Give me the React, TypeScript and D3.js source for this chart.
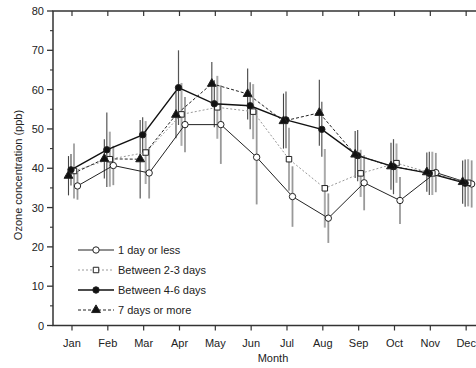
import React, { useEffect, useRef } from 'react';
import * as d3 from 'd3';

const months = ['Jan', 'Feb', 'Mar', 'Apr', 'May', 'Jun', 'Jul', 'Aug', 'Sep', 'Oct', 'Nov', 'Dec'];

const oneDay = [35.5, 40.7, 38.8, 51.1, 51.1, 42.8, 32.8, 27.3, 36.3, 31.8, 38.9, 36.0];
const oneDayErr = [3.5, 5, 6.5, 7, 10, 12, 7.7, 6.3, 7, 6, 5, 6];
const twoThreeDays = [39.3, 42.3, 44.0, 53.7, 55.5, 54.4, 42.3, 34.9, 38.7, 41.3, 38.7, 36.3];
const twoThreeErr = [7, 7, 8, 8, 8, 7, 8, 10, 6, 5, 5.5, 6];
const fourSixDays = [39.6, 44.7, 48.5, 60.5, 56.4, 55.9, 52.3, 49.9, 43.2, 40.4, 38.7, 36.2];
const fourSixErr = [4, 9.5, 4.5, 9.5, 6, 6, 7.2, 7, 6.5, 7, 5.5, 6];
const sevenPlus = [38.1, 42.4, 42.3, 53.6, 61.5, 58.9, 52.0, 54.1, 43.5, 40.5, 39.0, 36.5];
const sevenPlusErr = [5, 5, 10, 6, 5.5, 6.5, 7, 8.4, 6, 6, 5, 5.5];

const yTicks = [0, 10, 20, 30, 40, 50, 60, 70, 80];

const series = [
  { name: '1 day or less', values: oneDay, err: oneDayErr, marker: 'circle', filled: false,
    stroke: '#222', width: 1, dash: null, dx: 5.5, errColor: '#999', errWidth: 1.8 },
  { name: 'Between 2-3 days', values: twoThreeDays, err: twoThreeErr, marker: 'square', filled: false,
    stroke: '#999', width: 1, dash: '2,2', dx: 2, errColor: '#aaa', errWidth: 2 },
  { name: 'Between 4-6 days', values: fourSixDays, err: fourSixErr, marker: 'circle', filled: true,
    stroke: '#111', width: 1.4, dash: null, dx: -1, errColor: '#555', errWidth: 1.2 },
  { name: '7 days or more', values: sevenPlus, err: sevenPlusErr, marker: 'triangle', filled: true,
    stroke: '#222', width: 1, dash: '3,2', dx: -3.5, errColor: '#444', errWidth: 1.1 },
];

const App = () => {
  const svgRef = useRef(null);

  useEffect(() => {
    const svg = d3.select(svgRef.current);
    svg.selectAll('*').remove();

    const left = 53, right = 483, top = 11, bottom = 325.5;
    const font = 'Liberation Sans, Arial, sans-serif';

    const x = d3.scaleLinear().domain([0.47, 12.47]).range([left, right]);
    const y = d3.scaleLinear().domain([0, 80]).range([bottom, top]);

    const axisColor = '#333';

    // frame
    svg.append('rect')
      .attr('x', left).attr('y', top)
      .attr('width', right - left).attr('height', bottom - top)
      .attr('fill', 'none').attr('stroke', axisColor).attr('stroke-width', 1.5);

    // y ticks
    const minor = d3.range(5, 80, 5).filter(v => v % 10 !== 0);
    svg.selectAll('.ymaj').data(yTicks).enter().append('line')
      .attr('x1', left - 6).attr('x2', left)
      .attr('y1', d => y(d)).attr('y2', d => y(d))
      .attr('stroke', axisColor).attr('stroke-width', 1.3);
    svg.selectAll('.ymin').data(minor).enter().append('line')
      .attr('x1', left - 3).attr('x2', left)
      .attr('y1', d => y(d)).attr('y2', d => y(d))
      .attr('stroke', axisColor).attr('stroke-width', 1.1);
    svg.selectAll('.yr').data(yTicks).enter().append('line')
      .attr('x1', right - 5).attr('x2', right)
      .attr('y1', d => y(d)).attr('y2', d => y(d))
      .attr('stroke', axisColor).attr('stroke-width', 1.2);

    svg.selectAll('.ylab').data(yTicks).enter().append('text')
      .attr('x', left - 9).attr('y', d => y(d) + 4)
      .attr('text-anchor', 'end')
      .style('font-family', font).style('font-size', '11px').style('fill', '#222')
      .text(d => d);

    // x ticks
    svg.selectAll('.xb').data(months).enter().append('line')
      .attr('x1', (d, i) => x(i + 1)).attr('x2', (d, i) => x(i + 1))
      .attr('y1', bottom).attr('y2', bottom + 5)
      .attr('stroke', axisColor).attr('stroke-width', 1.2);
    svg.selectAll('.xt').data(months).enter().append('line')
      .attr('x1', (d, i) => x(i + 1)).attr('x2', (d, i) => x(i + 1))
      .attr('y1', top).attr('y2', top + 5)
      .attr('stroke', axisColor).attr('stroke-width', 1.2);
    svg.selectAll('.xlab').data(months).enter().append('text')
      .attr('x', (d, i) => x(i + 1)).attr('y', bottom + 21)
      .attr('text-anchor', 'middle')
      .style('font-family', font).style('font-size', '11px').style('fill', '#222')
      .text(d => d);

    svg.append('text')
      .attr('x', 273).attr('y', 362)
      .attr('text-anchor', 'middle')
      .style('font-family', font).style('font-size', '11px').style('fill', '#222')
      .text('Month');

    svg.append('text')
      .attr('transform', `translate(22, 175) rotate(-90)`)
      .attr('text-anchor', 'middle')
      .style('font-family', font).style('font-size', '11px').style('fill', '#222')
      .text('Ozone concentration (ppb)');

    const g = svg.append('g');

    // error bars
    series.forEach(s => {
      g.selectAll(null).data(s.values).enter().append('line')
        .attr('x1', (d, i) => x(i + 1) + s.dx).attr('x2', (d, i) => x(i + 1) + s.dx)
        .attr('y1', (d, i) => y(d - s.err[i])).attr('y2', (d, i) => y(d + s.err[i]))
        .attr('stroke', s.errColor).attr('stroke-width', s.errWidth);
    });

    // lines
    series.forEach(s => {
      const line = d3.line<number>()
        .x((d, i) => x(i + 1) + s.dx)
        .y(d => y(d));
      g.append('path')
        .attr('d', line(s.values))
        .attr('fill', 'none')
        .attr('stroke', s.stroke)
        .attr('stroke-width', s.width)
        .attr('stroke-dasharray', s.dash);
    });

    const sym = {
      circle: d3.symbol().type(d3.symbolCircle).size(32),
      square: d3.symbol().type(d3.symbolSquare).size(30),
      triangle: d3.symbol().type(d3.symbolTriangle).size(34),
    };

    const drawMarker = (sel, s) => sel
      .attr('d', sym[s.marker]())
      .attr('fill', s.filled ? '#111' : '#fff')
      .attr('stroke', '#222')
      .attr('stroke-width', 1);

    series.forEach(s => {
      g.selectAll(null).data(s.values).enter().append('path')
        .attr('transform', (d, i) => `translate(${x(i + 1) + s.dx},${y(d)})`)
        .call(sel => drawMarker(sel, s));
    });

    // legend
    const legend = svg.append('g');
    series.forEach((s, i) => {
      const ly = 250 + i * 20;
      legend.append('line')
        .attr('x1', 78).attr('x2', 114).attr('y1', ly).attr('y2', ly)
        .attr('stroke', s.stroke).attr('stroke-width', s.width)
        .attr('stroke-dasharray', s.dash);
      legend.append('path')
        .attr('transform', `translate(96,${ly})`)
        .call(sel => drawMarker(sel, s));
      legend.append('text')
        .attr('x', 118).attr('y', ly + 4)
        .style('font-family', font).style('font-size', '11px').style('fill', '#222')
        .text(s.name);
    });
  }, []);

  return (
    <svg ref={svgRef} width={476} height={368}
      style={{ position: 'absolute', left: 0, top: 0, background: '#fff' }} />
  );
};

export default App;
